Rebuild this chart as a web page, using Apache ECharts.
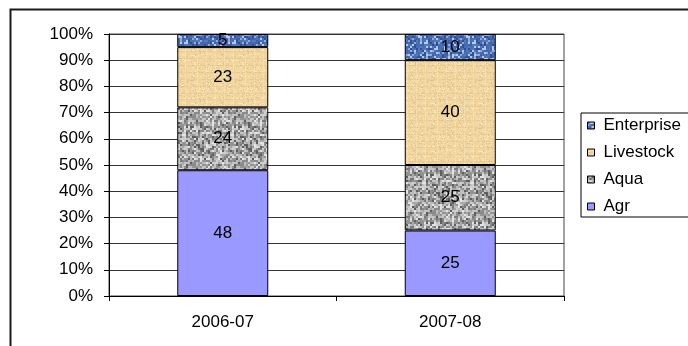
<!DOCTYPE html>
<html>
<head>
<meta charset="utf-8">
<script src="https://cdn.jsdelivr.net/npm/echarts@6/dist/echarts.min.js"></script>
<style>
  html, body { margin: 0; padding: 0; background: #fff; }
  #chart { width: 688px; height: 346px; }
</style>
</head>
<body>
<div id="chart"></div>
<script>
// Share of activity by sector, per year (percent)
const years = ['2006-07', '2007-08'];
const agr = [48, 25];
const aqua = [24, 25];
const livestock = [23, 40];
const enterprise = [5, 10];
const legendOrder = ['Enterprise', 'Livestock', 'Aqua', 'Agr'];

// Deterministic hash used for fill textures
function hash(i, j, s) {
  const v = Math.sin(i * 12.9898 + j * 78.233 + s * 37.719) * 43758.5453;
  return v - Math.floor(v);
}

// Speckled texture tile built from small cells
function speckle(palette, cell, seed) {
  const size = 48;
  const c = document.createElement('canvas');
  c.width = size; c.height = size;
  const ctx = c.getContext('2d');
  for (let y = 0; y < size; y += cell) {
    for (let x = 0; x < size; x += cell) {
      const r = hash(x, y, seed);
      ctx.fillStyle = palette[Math.floor(r * palette.length)];
      ctx.fillRect(x, y, cell, cell);
    }
  }
  return { image: c, repeat: 'repeat' };
}

// Parchment-like texture: warm base with faint fibres
function parchment() {
  const size = 48;
  const c = document.createElement('canvas');
  c.width = size; c.height = size;
  const ctx = c.getContext('2d');
  ctx.fillStyle = '#f0d59e';
  ctx.fillRect(0, 0, size, size);
  for (let y = 0; y < size; y++) {
    for (let x = 0; x < size; x++) {
      const r = hash(x, y, 3);
      if (r < 0.12) { ctx.fillStyle = 'rgba(255,240,205,0.7)'; ctx.fillRect(x, y, 1, 1); }
      else if (r > 0.9) { ctx.fillStyle = 'rgba(214,180,120,0.55)'; ctx.fillRect(x, y, 1, 1); }
    }
  }
  ctx.fillStyle = 'rgba(220,188,130,0.35)';
  for (let y = 3; y < size; y += 7) ctx.fillRect(0, y, size, 1);
  ctx.fillStyle = 'rgba(250,232,190,0.5)';
  for (let x = 5; x < size; x += 9) ctx.fillRect(x, 0, 1, size);
  return { image: c, repeat: 'repeat' };
}

const fills = {
  Agr: '#9999ff',
  Aqua: speckle(['#5e5e5e', '#7a7a7a', '#939393', '#a8a8a8', '#bcbcbc', '#cfcfcf', '#e2e2e2', '#8a8a8a', '#c4c4c4'], 2, 1),
  Livestock: parchment(),
  Enterprise: speckle(['#3d62a8', '#4a6fb5', '#5277bb', '#4468ae', '#8fa9d8', '#b7c9e8', '#2f5192', '#4a6fb5'], 2, 2)
};

const font = 'Liberation Sans, Arial, sans-serif';
const fs = 17;

function barSeries(name, values) {
  return {
    name: name,
    type: 'bar',
    stack: 'total',
    barWidth: '40%',
    data: values,
    itemStyle: { color: fills[name], borderColor: '#000', borderWidth: 1 },
    label: {
      show: true,
      position: 'inside',
      color: '#000',
      fontFamily: font,
      fontSize: fs,
      formatter: '{c}'
    },
    emphasis: { disabled: true }
  };
}

const chart = echarts.init(document.getElementById('chart'), null, { renderer: 'canvas' });
chart.setOption({
  animation: false,
  backgroundColor: '#fff',
  graphic: [{
    type: 'rect',
    left: 8, top: 7,
    shape: { width: 760, height: 420 },
    style: { fill: 'none', stroke: '#1a1a1a', lineWidth: 2 },
    silent: true
  }],
  grid: {
    left: 109, right: 124, top: 34, bottom: 50,
    show: true, borderColor: '#444', borderWidth: 1, backgroundColor: 'transparent'
  },
  legend: {
    orient: 'vertical',
    left: 581, top: 113,
    data: legendOrder,
    itemWidth: 7, itemHeight: 7,
    itemGap: 10,
    padding: [4, 60, 2, 6],
    borderColor: '#000', borderWidth: 1,
    selectedMode: false,
    icon: 'rect',
    itemStyle: { borderColor: '#000', borderWidth: 1 },
    textStyle: { fontFamily: font, fontSize: fs, color: '#000', padding: [0, 0, 0, 4] }
  },
  xAxis: {
    type: 'category',
    data: years,
    axisLine: { lineStyle: { color: '#000', width: 1 } },
    axisTick: { show: true, length: 5, lineStyle: { color: '#000' } },
    axisLabel: { color: '#000', fontFamily: font, fontSize: fs, margin: 18 }
  },
  yAxis: {
    type: 'value',
    min: 0, max: 100, interval: 10,
    axisLine: { show: true, lineStyle: { color: '#000', width: 1 } },
    axisTick: { show: true, length: 5, lineStyle: { color: '#000' } },
    splitLine: { show: true, lineStyle: { color: '#333', width: 1 } },
    axisLabel: { color: '#000', fontFamily: font, fontSize: fs, margin: 16, formatter: '{value}%' }
  },
  series: [
    barSeries('Agr', agr),
    barSeries('Aqua', aqua),
    barSeries('Livestock', livestock),
    barSeries('Enterprise', enterprise)
  ]
});
</script>
</body>
</html>
